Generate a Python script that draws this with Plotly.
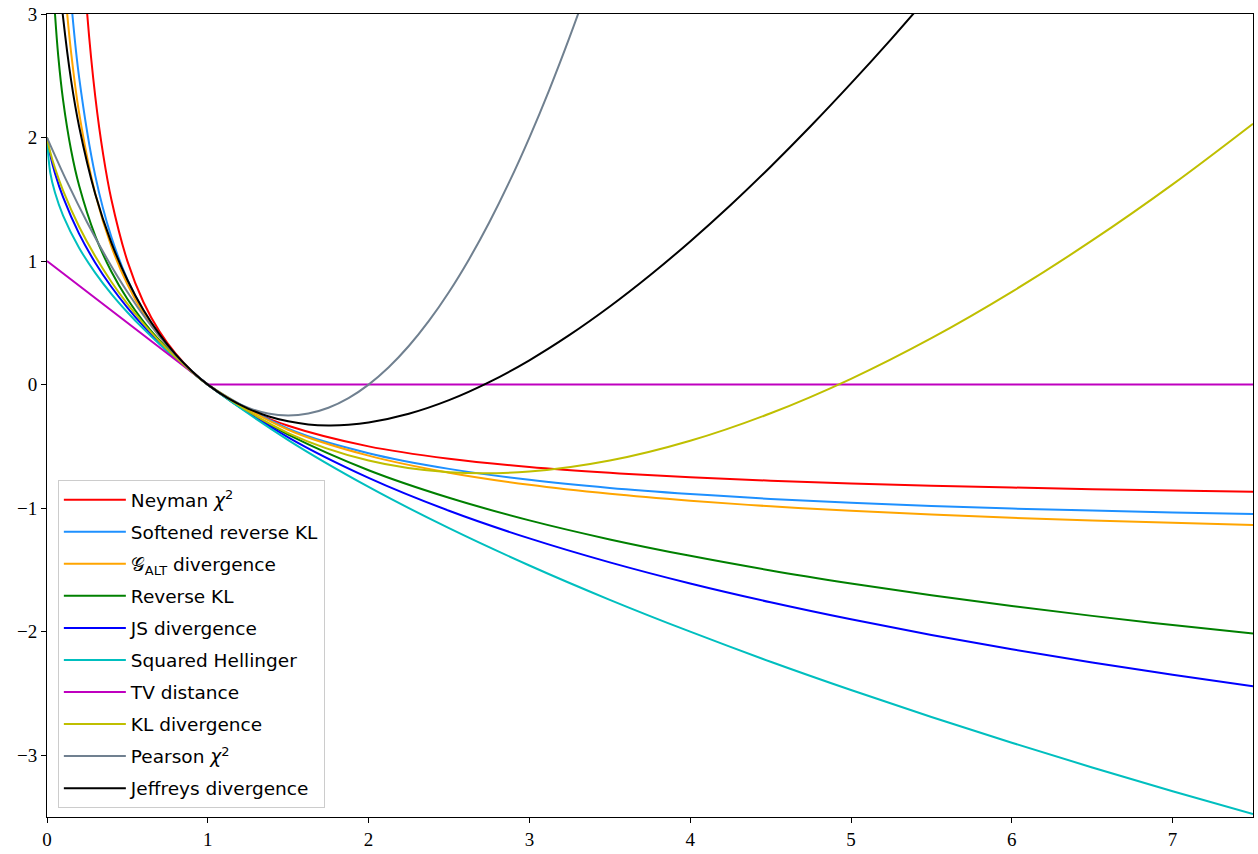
import plotly.graph_objects as go

# ---- data ----
x_neyman = [0.2, 0.25, 0.3, 0.35, 0.4, 0.5, 0.6, 0.7, 0.8, 0.9, 1.0, 1.25, 1.5, 2.0, 2.5, 3.0, 3.5, 4.0, 4.5, 5.0, 5.5, 6.0, 6.5, 7.0, 7.5]
y_neyman = [4.0, 3.0, 2.333, 1.857, 1.5, 1.0, 0.667, 0.429, 0.25, 0.111, 0.0, -0.2, -0.333, -0.5, -0.6, -0.667, -0.714, -0.75, -0.778, -0.8, -0.818, -0.833, -0.846, -0.857, -0.867]

x_srkl = [0.12, 0.15, 0.2, 0.3, 0.4, 0.5, 0.6, 0.7, 0.8, 0.9, 1.0, 1.5, 2.0, 2.5, 3.0, 3.5, 4.0, 4.5, 5.0, 5.5, 6.0, 6.5, 7.0, 7.5]
y_srkl = [3.63, 3.11, 2.485, 1.692, 1.196, 0.852, 0.596, 0.398, 0.239, 0.109, 0.0, -0.356, -0.555, -0.682, -0.771, -0.836, -0.885, -0.925, -0.957, -0.982, -1.003, -1.02, -1.035, -1.048]

x_galt = [0.1, 0.12, 0.15, 0.2, 0.3, 0.4, 0.5, 0.6, 0.7, 0.8, 0.9, 1.0, 1.5, 2.0, 2.5, 3.0, 3.5, 4.0, 4.5, 5.0, 5.5, 6.0, 6.5, 7.0, 7.5]
y_galt = [3.409, 3.081, 2.688, 2.197, 1.546, 1.119, 0.811, 0.575, 0.388, 0.236, 0.108, 0.0, -0.365, -0.575, -0.713, -0.811, -0.884, -0.940, -0.985, -1.022, -1.052, -1.078, -1.100, -1.119, -1.136]

x_rkl = [0.04, 0.05, 0.07, 0.1, 0.15, 0.2, 0.3, 0.4, 0.5, 0.6, 0.7, 0.8, 0.9, 1.0, 1.25, 1.5, 2.0, 2.5, 3.0, 3.5, 4.0, 4.5, 5.0, 5.5, 6.0, 6.5, 7.0, 7.5]
y_rkl = [3.219, 2.996, 2.659, 2.303, 1.897, 1.609, 1.204, 0.916, 0.693, 0.511, 0.357, 0.223, 0.105, 0.0, -0.223, -0.405, -0.693, -0.916, -1.099, -1.253, -1.386, -1.504, -1.609, -1.705, -1.792, -1.872, -1.946, -2.015]

x_js = [0.0, 0.02, 0.05, 0.1, 0.2, 0.3, 0.4, 0.5, 0.6, 0.7, 0.8, 0.9, 1.0, 1.5, 2.0, 2.5, 3.0, 3.5, 4.0, 4.5, 5.0, 5.5, 6.0, 6.5, 7.0, 7.5]
y_js = [2.0, 1.858, 1.710, 1.517, 1.220, 0.987, 0.792, 0.623, 0.473, 0.338, 0.216, 0.104, 0.0, -0.427, -0.755, -1.021, -1.245, -1.439, -1.610, -1.762, -1.900, -2.026, -2.142, -2.249, -2.348, -2.442]

x_hel = [0.0, 0.02, 0.05, 0.1, 0.2, 0.3, 0.4, 0.5, 0.6, 0.7, 0.8, 0.9, 1.0, 1.5, 2.0, 2.5, 3.0, 3.5, 4.0, 4.5, 5.0, 5.5, 6.0, 6.5, 7.0, 7.5]
y_hel = [2.0, 1.717, 1.553, 1.368, 1.106, 0.905, 0.735, 0.586, 0.451, 0.327, 0.211, 0.103, 0.0, -0.449, -0.828, -1.162, -1.464, -1.742, -2.0, -2.243, -2.472, -2.690, -2.899, -3.099, -3.292, -3.477]

x_tv = [0.0, 1.0, 7.5]
y_tv = [1.0, 0.0, 0.0]

x_kl = [0.0, 0.02, 0.05, 0.1, 0.2, 0.3, 0.4, 0.5, 0.6, 0.7, 0.8, 0.9, 1.0, 1.5, 2.0, 2.5, 3.0, 3.5, 4.0, 4.5, 5.0, 5.5, 6.0, 6.5, 7.0, 7.5]
y_kl = [2.0, 1.882, 1.750, 1.570, 1.278, 1.039, 0.833, 0.653, 0.494, 0.350, 0.221, 0.105, 0.0, -0.392, -0.614, -0.709, -0.704, -0.615, -0.455, -0.232, 0.047, 0.376, 0.751, 1.167, 1.621, 2.112]

x_pearson = [0.0, 0.125, 0.25, 0.375, 0.5, 0.625, 0.75, 0.875, 1.0, 1.125, 1.25, 1.375, 1.5, 1.625, 1.75, 1.875,
             2.0, 2.125, 2.25, 2.375, 2.5, 2.625, 2.75, 2.875, 3.0, 3.125, 3.25, 3.375, 3.5]
y_pearson = [2.0, 1.6406, 1.3125, 1.0156, 0.75, 0.5156, 0.3125, 0.1406, 0.0, -0.1094, -0.1875, -0.2344, -0.25, -0.2344, -0.1875, -0.1094,
             0.0, 0.1406, 0.3125, 0.5156, 0.75, 1.0156, 1.3125, 1.6406, 2.0, 2.3906, 2.8125, 3.2656, 3.75]

x_jef = [0.08, 0.1, 0.15, 0.2, 0.3, 0.4, 0.5, 0.6, 0.7, 0.8, 0.9, 1.0, 1.125, 1.25, 1.375, 1.5, 1.625, 1.75, 1.875, 2.0,
         2.25, 2.5, 2.75, 3.0, 3.25, 3.5, 3.75, 4.0, 4.25, 4.5, 4.75, 5.0, 5.25, 5.5]
y_jef = [3.244, 2.972, 2.462, 2.087, 1.543, 1.150, 0.847, 0.604, 0.407, 0.245, 0.111, 0.0, -0.110, -0.194, -0.256, -0.297, -0.322, -0.330, -0.325, -0.307,
         -0.236, -0.126, 0.020, 0.197, 0.402, 0.632, 0.885, 1.159, 1.452, 1.764, 2.093, 2.438, 2.797, 3.171]

names = ["Neyman <i>χ</i><sup>2</sup>", "Softened reverse KL", "𝒢<sub>ALT</sub> divergence",
         "Reverse KL", "JS divergence", "Squared Hellinger", "TV distance",
         "KL divergence", "Pearson <i>χ</i><sup>2</sup>", "Jeffreys divergence"]
colors = ["#ff0000", "#1e90ff", "#ffa500", "#008000", "#0000ff", "#00bfbf",
          "#bf00bf", "#bfbf00", "#708090", "#000000"]
series = [(x_neyman, y_neyman), (x_srkl, y_srkl), (x_galt, y_galt), (x_rkl, y_rkl),
          (x_js, y_js), (x_hel, y_hel), (x_tv, y_tv), (x_kl, y_kl),
          (x_pearson, y_pearson), (x_jef, y_jef)]

x_ticks = [0, 1, 2, 3, 4, 5, 6, 7]
y_ticks = [-3, -2, -1, 0, 1, 2, 3]
y_ticktext = ["−3", "−2", "−1", "0", "1", "2", "3"]

fig = go.Figure()
for i, ((xs, ys), nm, col) in enumerate(zip(series, names, colors)):
    shape = "linear" if nm == "TV distance" else "spline"
    fig.add_trace(go.Scatter(x=xs, y=ys, mode="lines", name=nm, legendgroup=f"g{i}",
                             line=dict(color=col, width=2, shape=shape, smoothing=1.0)))

axis_common = dict(showline=True, linecolor="black", linewidth=1, mirror=True,
                   ticks="outside", ticklen=5, tickwidth=1, tickcolor="black",
                   showgrid=False, zeroline=False,
                   tickfont=dict(family="Liberation Serif, DejaVu Serif, serif", size=19, color="black"))

fig.update_layout(
    width=1258, height=854,
    margin=dict(l=47, r=4, t=14, b=35),
    paper_bgcolor="white", plot_bgcolor="white",
    xaxis=dict(range=[0, 7.5], tickvals=x_ticks, **axis_common),
    yaxis=dict(range=[-3.5, 3], tickvals=y_ticks, ticktext=y_ticktext, **axis_common),
    legend=dict(x=0.009, y=0.011, xanchor="left", yanchor="bottom",
                bgcolor="rgba(255,255,255,0.8)", bordercolor="#cccccc", borderwidth=1,
                font=dict(family="DejaVu Sans, sans-serif", size=18.5, color="black"),
                tracegroupgap=5, itemwidth=62),
    showlegend=True,
)

fig.write_html("out.html")
